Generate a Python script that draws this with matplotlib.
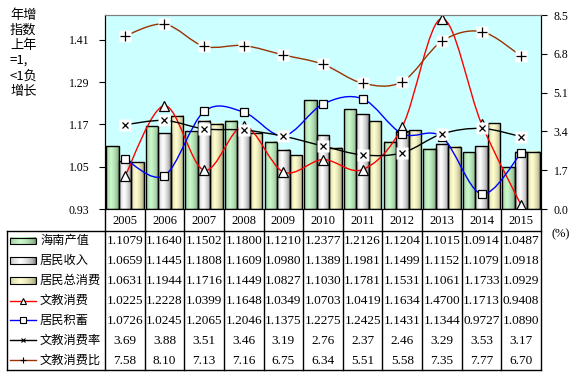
import numpy as np
import matplotlib
matplotlib.use('Agg')
import matplotlib.pyplot as plt
from matplotlib.path import Path
from matplotlib.patches import PathPatch, Rectangle
from matplotlib.lines import Line2D

# ---------------- data ----------------
years = ['2005', '2006', '2007', '2008', '2009', '2010', '2011', '2012', '2013', '2014', '2015']
hainan_output = [1.1079, 1.1640, 1.1502, 1.1800, 1.1210, 1.2377, 1.2126, 1.1204, 1.1015, 1.0914, 1.0487]
resident_income = [1.0659, 1.1445, 1.1808, 1.1609, 1.0980, 1.1389, 1.1981, 1.1499, 1.1152, 1.1079, 1.0918]
total_consumption = [1.0631, 1.1944, 1.1716, 1.1449, 1.0827, 1.1030, 1.1781, 1.1531, 1.1061, 1.1733, 1.0929]
culture_edu_consumption = [1.0225, 1.2228, 1.0399, 1.1648, 1.0349, 1.0703, 1.0419, 1.1634, 1.4700, 1.1713, 0.9408]
resident_savings = [1.0726, 1.0245, 1.2065, 1.2046, 1.1375, 1.2275, 1.2425, 1.1431, 1.1344, 0.9727, 1.0890]
culture_edu_rate = [3.69, 3.88, 3.51, 3.46, 3.19, 2.76, 2.37, 2.46, 3.29, 3.53, 3.17]
culture_edu_ratio = [7.58, 8.10, 7.13, 7.16, 6.75, 6.34, 5.51, 5.58, 7.35, 7.77, 6.70]

series_names = ['海南产值', '居民收入', '居民总消费', '文教消费', '居民积蓄', '文教消费率', '文教消费比']
left_ticks = [0.93, 1.05, 1.17, 1.29, 1.41]
right_ticks = [0.0, 1.7, 3.4, 5.1, 6.8, 8.5]

# ---------------- style ----------------
W, H = 576, 376
DPI = 100
SERIF = 'Liberation Serif'
CJK = 'Noto Sans CJK SC'
plt.rcParams['font.family'] = [SERIF, CJK, 'DejaVu Sans']

fig = plt.figure(figsize=(W / DPI, H / DPI), dpi=DPI)

pl, pr, pt, pb = 105, 541, 15, 209  # plot area in pixels
ax = fig.add_axes([pl / W, 1 - pb / H, (pr - pl) / W, (pb - pt) / H])
ax.set_facecolor('#CCFFFF')

YMIN, YMAX = 0.93, 1.48
n = len(years)
x = np.arange(n)
bw = 0.315

bar_styles = [
    ((0.40, 0.54, 0.40), (0.80, 0.98, 0.80)),   # green
    ((0.40, 0.40, 0.40), (1.00, 1.00, 1.00)),   # grey/white
    ((0.55, 0.55, 0.38), (1.00, 1.00, 0.82)),   # cream
]


def grad_img(dark, light, npx=40):
    t = np.linspace(0, 1, npx)
    f = np.clip(1 - np.abs(t - 0.4) / 0.6, 0, 1) ** 0.45
    dark = np.array(dark); light = np.array(light)
    row = dark[None, :] + (light - dark)[None, :] * f[:, None]
    return row[None, :, :]


bar_series = [hainan_output, resident_income, total_consumption]
for k, (vals, (dk, lt)) in enumerate(zip(bar_series, bar_styles)):
    img = grad_img(dk, lt)
    for i, v in enumerate(vals):
        x0 = x[i] + (k - 1) * bw - bw / 2
        ax.imshow(img, extent=[x0, x0 + bw, YMIN, v], aspect='auto',
                  interpolation='bilinear', zorder=2)
        ax.add_patch(Rectangle((x0, YMIN), bw, v - YMIN, fill=False,
                               edgecolor='black', lw=1.0, zorder=3))


def smooth_path(xs, ys):
    pts = np.column_stack([np.asarray(xs, float), np.asarray(ys, float)])
    verts = [pts[0]]
    codes = [Path.MOVETO]
    m = len(pts)
    for i in range(m - 1):
        p0 = pts[i - 1] if i > 0 else pts[i]
        p1, p2 = pts[i], pts[i + 1]
        p3 = pts[i + 2] if i + 2 < m else pts[i + 1]
        c1 = p1 + (p2 - p0) / 6.0
        c2 = p2 - (p3 - p1) / 6.0
        verts += [c1, c2, p2]
        codes += [Path.CURVE4] * 3
    return Path(verts, codes)


# left-axis lines
ax.add_patch(PathPatch(smooth_path(x, culture_edu_consumption), fill=False,
                       edgecolor='#FF0000', lw=1.0, zorder=4))
ax.plot(x, culture_edu_consumption, ls='none', marker='^', ms=6.5, mfc='white',
        mec='black', mew=0.9, zorder=5)
ax.add_patch(PathPatch(smooth_path(x, resident_savings), fill=False,
                       edgecolor='#0000FF', lw=1.0, zorder=4))
ax.plot(x, resident_savings, ls='none', marker='s', ms=5.5, mfc='white',
        mec='black', mew=0.9, zorder=5)

ax.set_xlim(-0.5, n - 0.5)
ax.set_ylim(YMIN, YMAX)
ax.set_yticks(left_ticks)
ax.set_yticklabels([f'{t:.2f}' for t in left_ticks], fontsize=8.5, family=SERIF)
for lab in ax.get_yticklabels():
    lab.set_horizontalalignment('left')
ax.tick_params(axis='y', direction='out', length=4, pad=22, width=0.8)
ax.set_xticks([])
for s in ['left', 'bottom']:
    ax.spines[s].set_color('black')
ax.spines['top'].set_color('#808080')
ax.spines['right'].set_color('black')

# right-axis lines
ax2 = ax.twinx()
ax2.set_ylim(0, 8.5)
ax2.set_yticks(right_ticks)
ax2.set_yticklabels([f'{t:.1f}' for t in right_ticks], fontsize=8.5, family=SERIF)
ax2.tick_params(axis='y', direction='out', length=4, pad=5, width=0.8)
ax2.add_patch(PathPatch(smooth_path(x, culture_edu_rate), fill=False,
                        edgecolor='black', lw=1.0, zorder=4))
ax2.plot(x, culture_edu_rate, ls='none', marker='s', ms=9, mfc='white', mec='none', zorder=5)
ax2.plot(x, culture_edu_rate, ls='none', marker='x', ms=5, mec='black', mew=0.9, zorder=6)
ax2.add_patch(PathPatch(smooth_path(x, culture_edu_ratio), fill=False,
                        edgecolor='#993300', lw=1.0, zorder=4))
ax2.plot(x, culture_edu_ratio, ls='none', marker='s', ms=9, mfc='white', mec='none', zorder=5)
ax2.plot(x, culture_edu_ratio, ls='none', marker='+', ms=6.5, mec='black', mew=0.9, zorder=6)
ax2.set_xlim(-0.5, n - 0.5)
ax2.spines['top'].set_color('#808080')

# ---------------- y label text ----------------
ylabel_lines = ['年增', '指数', '上年', '=1,', '<1负', '增长']
for j, s in enumerate(ylabel_lines):
    fig.text(10 / W, 1 - (15 + j * 15.2) / H, s, fontsize=9.5, family=[CJK, SERIF],
             ha='left', va='center')

# ---------------- data table ----------------
ov = fig.add_axes([0, 0, 1, 1], zorder=-1)
ov.set_xlim(0, W)
ov.set_ylim(H, 0)
ov.axis('off')
ov.patch.set_visible(False)

colw = (pr - pl) / n
tbl_top, tbl_bot, tbl_left = 231, 370, 7
rowh = (tbl_bot - tbl_top) / 7

lk = dict(color='black', lw=1.0)
for k in range(n + 1):
    xx = pl + k * colw
    ov.add_line(Line2D([xx, xx], [pb, tbl_bot], **lk))
ov.add_line(Line2D([tbl_left, pr], [tbl_top, tbl_top], **lk))
ov.add_line(Line2D([tbl_left, pr], [tbl_bot, tbl_bot], **lk))
ov.add_line(Line2D([tbl_left, tbl_left], [tbl_top, tbl_bot], **lk))

for i, yr in enumerate(years):
    ov.text(pl + (i + 0.5) * colw, (pb + tbl_top) / 2 + 1, yr, fontsize=9,
            family=SERIF, ha='center', va='center')

table_rows = [hainan_output, resident_income, total_consumption,
              culture_edu_consumption, resident_savings, culture_edu_rate, culture_edu_ratio]
fmts = ['{:.4f}'] * 5 + ['{:.2f}'] * 2
for r, (vals, fm) in enumerate(zip(table_rows, fmts)):
    yc = tbl_top + (r + 0.5) * rowh
    for i, v in enumerate(vals):
        ov.text(pl + (i + 0.5) * colw, yc + 0.5, fm.format(v), fontsize=9.5,
                family=SERIF, ha='center', va='center')
    ov.text(40, yc, series_names[r], fontsize=8.8, family=[CJK, SERIF],
            ha='left', va='center')
    if r < 3:
        dk, lt = bar_styles[r]
        ov.imshow(grad_img(dk, lt), extent=[10, 36, yc + 3.3, yc - 3.3],
                  aspect='auto', interpolation='bilinear', zorder=2)
        ov.add_patch(Rectangle((10, yc - 3.3), 26, 6.6, fill=False,
                               edgecolor='black', lw=0.8, zorder=3))

key_specs = [
    ('#FF0000', '^', 5, 'white'),
    ('#0000FF', 's', 4.5, 'white'),
    ('black', 'x', 3.5, 'black'),
    ('#993300', '+', 4.5, 'black'),
]
for j, (c, mk, ms, mfc) in enumerate(key_specs):
    yc = tbl_top + (3 + j + 0.5) * rowh
    ov.add_line(Line2D([10, 36], [yc, yc], color=c, lw=1.0, zorder=3))
    ov.add_line(Line2D([23], [yc], ls='none', marker=mk, ms=ms, mfc=mfc,
                       mec='black', mew=0.8, zorder=4))

ov.set_xlim(0, W)
ov.set_ylim(H, 0)

fig.text(552 / W, 1 - 234 / H, '(%)', fontsize=9, family=SERIF, ha='left', va='center')

fig.savefig('out.png', dpi=DPI)
